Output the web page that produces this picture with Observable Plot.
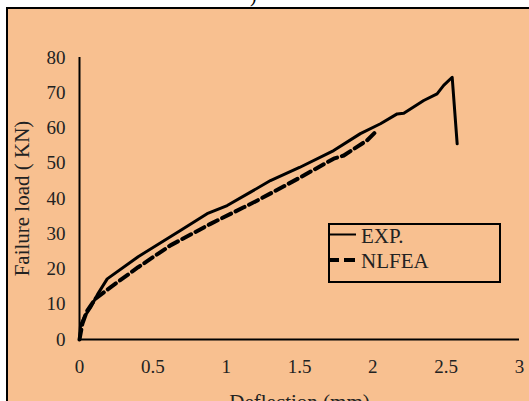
<!DOCTYPE html>
<html>
<head>
<meta charset="utf-8">
<script src="https://cdn.jsdelivr.net/npm/d3@7"></script>
<script src="https://cdn.jsdelivr.net/npm/@observablehq/plot@0.6"></script>
<style>
  html, body { margin: 0; padding: 0; background: #fff; width: 529px; height: 401px; overflow: hidden; }
  #frame { position: absolute; left: 6px; top: 7px; width: 560px; height: 440px; background: #F8C090; border: 2px solid #000; box-sizing: border-box; }
  #chart { position: absolute; left: 0; top: 0; }
  #cap { position: absolute; left: 250px; top: -16px; font: 20px "Liberation Serif", serif; color: #000; }
  #legend { position: absolute; left: 328px; top: 223px; width: 173px; height: 60px; border: 2px solid #000; box-sizing: border-box; font: 21px "Liberation Serif", serif; color: #222; }
  .lt { position: absolute; left: 31px; line-height: 24px; white-space: nowrap; }
  #sw { position: absolute; left: -2px; top: -2px; }
</style>
</head>
<body>
<div id="frame"></div>
<div id="cap">)</div>
<div id="chart"></div>
<div id="legend">
  <svg id="sw" width="32" height="60">
    <line x1="0" x2="28" y1="11.5" y2="11.5" stroke="#000" stroke-width="2"/>
    <line x1="0" x2="28" y1="37" y2="37" stroke="#000" stroke-width="4" stroke-dasharray="11,5"/>
  </svg>
  <div class="lt" id="l1" style="top:-1px"></div>
  <div class="lt" id="l2" style="top:24px"></div>
</div>
<script>
const seriesNames = ["EXP.", "NLFEA"];

const expDeflection = [0, 0.007, 0.034, 0.075, 0.123, 0.189, 0.40, 0.688, 0.870, 1.007, 1.166, 1.302, 1.50, 1.733, 1.915, 2.052, 2.166, 2.211, 2.347, 2.438, 2.483, 2.541, 2.575];
const expLoad       = [0, 4.0, 6.5, 9.0, 12.8, 17.2, 23.5, 30.9, 35.7, 38.0, 41.8, 45.1, 48.8, 53.6, 58.4, 61.2, 64.0, 64.2, 67.8, 69.7, 72.1, 74.4, 55.5];

const nlfeaDeflection = [0, 0.02, 0.05, 0.109, 0.211, 0.40, 0.620, 0.893, 1.120, 1.234, 1.506, 1.733, 1.802, 1.961, 2.029];
const nlfeaLoad       = [0, 4.5, 8.0, 11.6, 14.8, 20.5, 26.7, 32.8, 37.5, 39.9, 46.0, 51.3, 52.2, 56.5, 59.3];

const xTicks = [0, 0.5, 1, 1.5, 2, 2.5, 3];
const yTicks = [0, 10, 20, 30, 40, 50, 60, 70, 80];
const xTitle = "Deflection (mm)";
const yTitle = "Failure load ( KN)";

document.getElementById("l1").textContent = seriesNames[0];
document.getElementById("l2").textContent = seriesNames[1];

const expData = expDeflection.map((x, i) => ({x, y: expLoad[i]}));
const nlfeaData = nlfeaDeflection.map((x, i) => ({x, y: nlfeaLoad[i]}));

const font = '"Liberation Serif", "Times New Roman", serif';

const chart = Plot.plot({
  width: 529,
  height: 430,
  marginLeft: 79,
  marginRight: 10,
  marginTop: 57,
  marginBottom: 91,
  style: { background: "transparent", fontFamily: font, fontSize: "19px", color: "#222" },
  x: { domain: [0, 3], ticks: xTicks, tickFormat: d => String(d), tickSize: 0, tickPadding: 20, label: null },
  y: { domain: [0, 80], ticks: yTicks, tickFormat: d => String(d), tickSize: 0, tickPadding: 14, label: null },
  marks: [
    Plot.ruleY([0], { stroke: "#000", strokeWidth: 2 }),
    Plot.ruleX([0], { stroke: "#000", strokeWidth: 2 }),
    Plot.line(nlfeaData, { x: "x", y: "y", stroke: "#000", strokeWidth: 4, strokeDasharray: "10,5", curve: "linear" }),
    Plot.line(expData, { x: "x", y: "y", stroke: "#000", strokeWidth: 3, curve: "linear" }),
    Plot.text([yTitle], { frameAnchor: "left", dx: -57, rotate: -90, textAnchor: "middle", fontSize: 21, fill: "#222" }),
    Plot.text([xTitle], { frameAnchor: "bottom", dy: 55, lineAnchor: "top", fontSize: 21, fill: "#222" })
  ]
});
document.getElementById("chart").appendChild(chart);
</script>
</body>
</html>
